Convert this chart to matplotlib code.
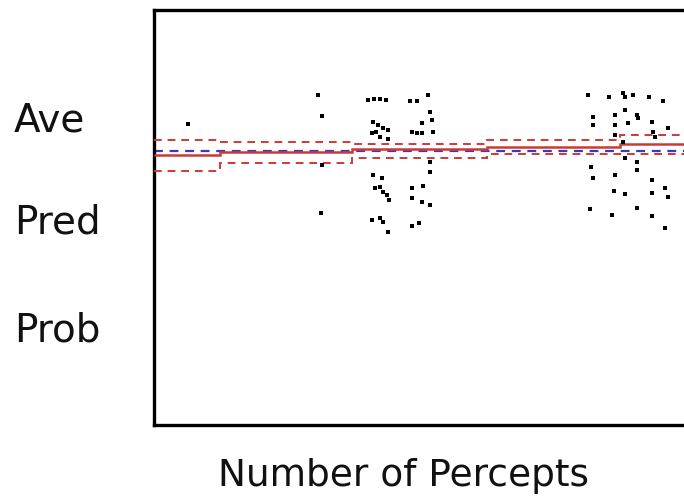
import matplotlib
matplotlib.use("Agg")
import matplotlib.pyplot as plt
import numpy as np

# Scatter data: Number of Percepts vs Ave Pred Prob
percepts = [3.4, 16.4, 16.8, 16.8, 16.7,
            21.4, 22.0, 22.6, 23.2, 25.6, 26.3, 27.4, 27.6, 27.8, 26.8, 27.9,
            21.9, 22.4, 22.9, 22.2, 23.4, 22.6, 21.8, 23.4, 25.8, 26.3, 26.8,
            27.6, 27.6, 21.9, 22.8, 22.1, 22.6, 22.9, 23.3, 23.5, 25.8, 26.9,
            25.8, 26.8, 27.6, 21.8, 22.6, 22.9, 23.4, 25.8, 26.5,
            43.4, 45.5, 46.9, 47.1, 47.9, 49.5, 50.9, 43.9, 43.9, 46.1, 46.1,
            46.1, 47.1, 47.4, 48.3, 48.4, 49.8, 49.9, 50.1, 51.4, 46.9, 47.1,
            48.3, 48.3, 43.7, 43.9, 46.1, 49.8, 46.0, 47.1, 49.8, 51.1, 51.4,
            43.6, 45.8, 48.3, 49.8, 51.1]
ave_pred_prob = [0.725, 0.795, 0.745, 0.627, 0.511,
                 0.783, 0.786, 0.786, 0.783, 0.781, 0.781, 0.795, 0.754, 0.735, 0.728, 0.706,
                 0.730, 0.723, 0.716, 0.706, 0.712, 0.694, 0.704, 0.688, 0.706, 0.704, 0.704,
                 0.634, 0.610, 0.602, 0.595, 0.571, 0.573, 0.561, 0.554, 0.542, 0.571, 0.576,
                 0.547, 0.537, 0.530, 0.494, 0.499, 0.489, 0.465, 0.480, 0.487,
                 0.795, 0.790, 0.800, 0.790, 0.795, 0.790, 0.781, 0.742, 0.723, 0.747, 0.723,
                 0.699, 0.759, 0.728, 0.747, 0.740, 0.730, 0.706, 0.694, 0.716, 0.682, 0.643,
                 0.634, 0.614, 0.622, 0.595, 0.602, 0.590, 0.564, 0.557, 0.559, 0.571, 0.549,
                 0.520, 0.506, 0.523, 0.504, 0.475]

# Step fit with confidence band
seg_edges = [0, 6.6, 19.8, 33.3, 46.6, 60]
fit = [0.651, 0.658, 0.665, 0.671, 0.677]
upper = [0.687, 0.682, 0.676, 0.687, 0.699]
lower = [0.612, 0.631, 0.643, 0.653, 0.653]
mean_prob = 0.661

W, H = 684, 504
fig = plt.figure(figsize=(W / 100, H / 100), dpi=100)
fig.patch.set_facecolor("white")

ax = fig.add_axes([154 / W, (H - 425) / H, 600 / W, 415 / H])
ax.set_xlim(0, 60)
ax.set_ylim(0, 1)
ax.set_xticks([])
ax.set_yticks([])
for s in ax.spines.values():
    s.set_linewidth(2.4)
    s.set_color("black")

red = "#cc3a36"
blue = "#3a3ab8"

ax.axhline(mean_prob, color=blue, lw=1.6, dashes=(4, 3), zorder=2)
ax.stairs(fit, seg_edges, baseline=None, color=red, lw=1.8, zorder=3)
ax.stairs(upper, seg_edges, baseline=None, color=red, lw=1.4,
          linestyle=(0, (4, 3)), zorder=3)
ax.stairs(lower, seg_edges, baseline=None, color=red, lw=1.4,
          linestyle=(0, (4, 3)), zorder=3)

ax.scatter(percepts, ave_pred_prob, marker="s", s=11, color="black",
           linewidths=0, zorder=4)

font = "DejaVu Sans"
for txt, base in [("Ave", 132), ("Pred", 233), ("Prob", 341)]:
    fig.text(14 / W, 1 - base / H, txt, fontsize=28, family=font,
             ha="left", va="baseline", color="#111111")
fig.text(404 / W, 1 - 486 / H, "Number of Percepts", fontsize=27,
         family=font, ha="center", va="baseline", color="#111111")

fig.savefig("out.png", dpi=100)
